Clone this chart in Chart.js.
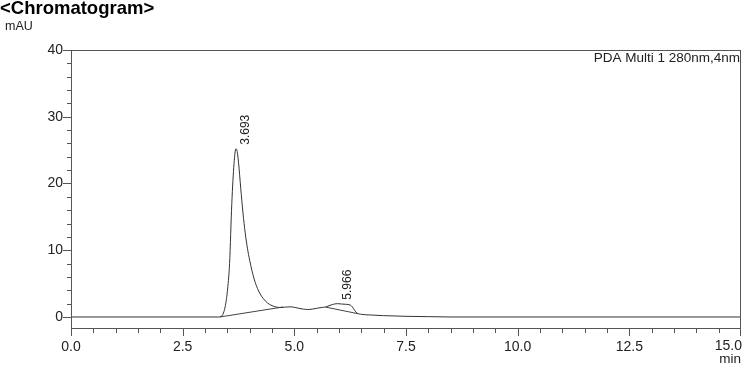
<!DOCTYPE html>
<html>
<head>
<meta charset="utf-8">
<script src="https://cdn.jsdelivr.net/npm/chart.js@4"></script>
<style>
  html, body { margin: 0; padding: 0; background: #fff; }
  #wrap { width: 745px; height: 372px; position: relative; }
</style>
</head>
<body>
<div id="wrap"><canvas id="chromChart" width="745" height="372"></canvas></div>
<script>
// signal trace (min, mAU)
const signalTimes = [0, 3.30, 3.35, 3.40, 3.45, 3.50, 3.55, 3.60, 3.65, 3.693, 3.72, 3.75, 3.80, 3.85, 3.90, 3.95, 4.00, 4.10, 4.20, 4.30, 4.40, 4.50, 4.60, 4.70, 4.80, 4.90, 5.00, 5.10, 5.20, 5.30, 5.40, 5.50, 5.60, 5.70, 5.80, 5.90, 5.966, 6.05, 6.15, 6.25, 6.30, 6.35, 6.40, 6.50, 6.70, 7.00, 7.50, 8.00, 8.50, 15.0];
const signalValues = [0, 0, 0.05, 0.4, 1.5, 3.8, 8.0, 17.0, 23.0, 25.2, 24.8, 23.2, 19.3, 15.6, 12.6, 10.3, 8.5, 5.7, 3.9, 2.8, 2.1, 1.7, 1.48, 1.42, 1.48, 1.52, 1.45, 1.3, 1.18, 1.12, 1.18, 1.3, 1.42, 1.5, 1.75, 1.95, 2.0, 1.95, 1.9, 1.8, 1.5, 1.0, 0.6, 0.4, 0.3, 0.2, 0.1, 0.05, 0, 0];

// integration baselines
const baseline1Times = [3.33, 4.75];
const baseline1Values = [0, 1.5];
const baseline2Times = [5.70, 6.42];
const baseline2Values = [1.48, 0.5];

// peak labels
const peakTimes = [3.693, 5.966];
const peakHeights = [25.2, 2.0];
const peakLabels = ['3.693', '5.966'];

// axes
const xTicks = [0, 0.5, 1, 1.5, 2, 2.5, 3, 3.5, 4, 4.5, 5, 5.5, 6, 6.5, 7, 7.5, 8, 8.5, 9, 9.5, 10, 10.5, 11, 11.5, 12, 12.5, 13, 13.5, 14, 14.5, 15];
const xLabeled = [0, 2.5, 5, 7.5, 10, 12.5, 15];
const yTicks = [0, 2, 4, 6, 8, 10, 12, 14, 16, 18, 20, 22, 24, 26, 28, 30, 32, 34, 36, 38, 40];
const yLabeled = [0, 10, 20, 30, 40];

const toPoints = (xs, ys) => xs.map((x, i) => ({ x: x, y: ys[i] }));

const textColor = '#222';
const frameColor = '#555';
const fontFamily = '"Liberation Sans", Arial, sans-serif';
const xMax = 15;

// frame, tick marks, titles and peak labels
const decorations = {
    id: 'decorations',
    afterDraw(chart) {
        const c = chart.ctx;
        const a = chart.chartArea;
        const xs = chart.scales.x;
        const ys = chart.scales.y;
        c.save();
        c.strokeStyle = frameColor;
        c.lineWidth = 1;
        c.strokeRect(Math.round(a.left) + 0.5, Math.round(a.top) + 0.5, Math.round(a.right - a.left) - 1, Math.round(a.bottom - a.top) - 1);

        c.beginPath();
        xTicks.forEach(v => {
            const px = Math.min(Math.round(xs.getPixelForValue(v)) + 0.5, a.right - 0.5);
            const len = xLabeled.includes(v) ? 7 : 4;
            c.moveTo(px, a.bottom);
            c.lineTo(px, a.bottom + len);
        });
        yTicks.forEach(v => {
            const py = Math.round(ys.getPixelForValue(v)) + 0.5;
            const len = yLabeled.includes(v) ? 8 : 4;
            c.moveTo(a.left, py);
            c.lineTo(a.left - len, py);
        });
        c.stroke();

        // last x label sits flush with the right edge
        c.fillStyle = textColor;
        c.font = '14px ' + fontFamily;
        c.textAlign = 'right';
        c.textBaseline = 'top';
        c.fillText(xMax.toFixed(1), a.right + 1, a.bottom + 10);

        c.fillStyle = '#000';
        c.font = 'bold 18.5px ' + fontFamily;
        c.textAlign = 'left';
        c.fillText('<Chromatogram>', 0, 0);

        c.fillStyle = textColor;
        c.font = '12.5px ' + fontFamily;
        c.fillText('mAU', 5, 20);

        c.font = '13.5px ' + fontFamily;
        c.textAlign = 'right';
        c.fillText('min', 741, 353);
        c.fillText('PDA Multi 1 280nm,4nm', 740, 52);

        c.font = '12px ' + fontFamily;
        c.textAlign = 'left';
        peakTimes.forEach((t, i) => {
            const px = xs.getPixelForValue(t);
            const py = ys.getPixelForValue(peakHeights[i]);
            c.save();
            c.translate(px + 4, py - 4);
            c.rotate(-Math.PI / 2);
            c.fillText(peakLabels[i], 0, 0);
            c.restore();
        });
        c.restore();
    }
};

const ctx = document.getElementById('chromChart').getContext('2d');

new Chart(ctx, {
    type: 'line',
    data: {
        datasets: [
            {
                data: toPoints(signalTimes, signalValues),
                borderColor: '#333',
                borderWidth: 1,
                pointRadius: 0,
                cubicInterpolationMode: 'monotone'
            },
            {
                data: toPoints(baseline1Times, baseline1Values),
                borderColor: '#444',
                borderWidth: 1,
                pointRadius: 0
            },
            {
                data: toPoints(baseline2Times, baseline2Values),
                borderColor: '#444',
                borderWidth: 1,
                pointRadius: 0
            }
        ]
    },
    options: {
        responsive: false,
        animation: false,
        events: [],
        layout: { padding: { left: 0, right: 4, top: 50, bottom: 0 } },
        plugins: {
            legend: { display: false },
            tooltip: { enabled: false }
        },
        scales: {
            x: {
                type: 'linear',
                min: 0,
                max: xMax,
                afterBuildTicks: scale => { scale.ticks = xLabeled.map(v => ({ value: v })); },
                afterFit: scale => { scale.height = 43; scale.paddingLeft = 0; scale.paddingRight = 0; },
                grid: { display: false, drawTicks: false },
                border: { display: false },
                ticks: {
                    padding: 10,
                    maxRotation: 0,
                    color: textColor,
                    font: { family: fontFamily, size: 14 },
                    callback: v => (v === xMax ? '' : v.toFixed(1))
                }
            },
            y: {
                min: -1.8,
                max: 40,
                afterBuildTicks: scale => { scale.ticks = yLabeled.map(v => ({ value: v })); },
                afterFit: scale => { scale.width = 71; scale.paddingTop = 0; scale.paddingBottom = 0; },
                grid: { display: false, drawTicks: false },
                border: { display: false },
                ticks: {
                    padding: 8,
                    color: textColor,
                    font: { family: fontFamily, size: 14 }
                }
            }
        }
    },
    plugins: [decorations]
});
</script>
</body>
</html>
